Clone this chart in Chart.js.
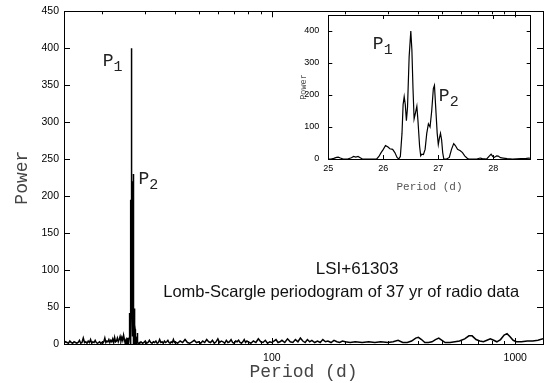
<!DOCTYPE html>
<html><head><meta charset="utf-8">
<script src="https://cdn.jsdelivr.net/npm/chart.js@4.4.0/dist/chart.umd.min.js"></script>
<style>
html,body{margin:0;padding:0;background:#fff;}
#wrap{position:relative;width:548px;height:383px;overflow:hidden;}
#main{position:absolute;left:0;top:0;}
#inset{position:absolute;left:296px;top:0;}
</style></head><body>
<div id="wrap">
<canvas id="main" width="548" height="383" style="width:548px;height:383px"></canvas>
<canvas id="inset" width="248" height="198" style="width:248px;height:198px"></canvas>
</div>
<script>
// ---------- DATA (period in days, Lomb-Scargle power) ----------
const noiseShort = [
 [14.0,1],[14.2,3],[14.4,2],[14.6,1],[14.8,4],[15.0,2],[15.2,1],[15.4,3],[15.6,2],[15.8,1],
 [16.0,2],[16.2,5],[16.4,1],[16.6,2],[16.8,8],[17.0,2],[17.2,3],[17.4,1],[17.6,4],[17.8,2],
 [18.0,6],[18.2,1],[18.4,3],[18.6,2],[18.8,5],[19.0,2],[19.2,1],[19.4,2],[19.6,3],[19.8,1],
 [20.0,2],[20.2,1],[20.4,3],[20.6,8],[20.8,2],[21.0,4],[21.2,3],[21.4,6],[21.6,2],[21.8,5],
 [22.0,3],[22.2,7],[22.4,2],[22.6,9],[22.8,3],[23.0,4],[23.2,8],[23.4,3],[23.6,6],[23.8,10],
 [24.0,4],[24.2,9],[24.4,5],[24.6,12],[24.8,6],[24.9,3]
];
const peakRegion = [
 [25.00,0],[25.05,0],[25.10,2],[25.15,5],[25.18,6],[25.22,3],[25.27,0],[25.35,0],[25.42,4],[25.46,8],
 [25.50,6],[25.54,8],[25.58,4],[25.62,0],[25.75,0],[25.88,0],[25.92,8],[25.96,20],[26.00,30],[26.04,42],
 [26.08,38],[26.12,32],[26.17,30],[26.21,20],[26.25,5],[26.28,0],[26.31,8],[26.34,80],[26.36,170],[26.38,195],
 [26.40,170],[26.42,120],[26.44,160],[26.47,320],[26.50,400],[26.52,340],[26.54,220],[26.56,125],[26.58,140],[26.61,165],
 [26.63,120],[26.66,40],[26.68,10],[26.70,15],[26.73,14],[26.76,30],[26.79,80],[26.82,110],[26.85,100],[26.88,150],
 [26.91,220],[26.93,230],[26.95,170],[26.98,80],[27.00,45],[27.02,65],[27.04,80],[27.06,60],[27.08,20],[27.10,0],
 [27.15,0],[27.20,5],[27.24,30],[27.28,48],[27.31,42],[27.35,30],[27.40,26],[27.44,20],[27.48,10],[27.52,3],
 [27.55,0],[27.70,0],[27.76,3],[27.80,1],[27.88,0],[27.93,10],[27.96,15],[27.99,8],[28.02,5],[28.06,10],
 [28.09,9],[28.13,4],[28.18,3],[28.25,1],[28.35,0],[28.50,1],[28.60,2],[28.65,3],[28.70,1]
];
const noiseMid = [
 [29.0,3],[29.4,1],[29.8,2],[30.2,4],[30.6,1],[31.0,2],[31.4,5],[31.8,2],[32.2,1],[32.6,3],
 [33.0,2],[33.4,4],[33.8,1],[34.2,2],[34.6,6],[35.0,2],[35.4,3],[35.8,1],[36.2,4],[36.6,2],
 [37.0,3],[37.4,5],[37.8,2],[38.2,1],[38.6,3],[39.0,2],[39.4,6],[39.8,2],
 [40,3],[41,1],[42,4],[43,2],[44,6],[45,2],[46,1],[47,3],[48,5],[49,2],
 [50,3],[51,1],[52,4],[53,2],[54,6],[55,3],[56,2],[57,5],[58,1],[59,3],
 [60,7],[61,2],[62,4],[63,3],[64,1],[65,5],[66,2],[67,3],[68,6],[69,2],
 [70,1],[71,4],[72,3],[73,5],[74,2],[75,1],[76,3],[77,6],[78,2],[79,4],
 [80,3],[82,1],[84,4],[86,2],[88,7],[90,3],[92,2],[94,5],[96,1],[98,3],
 [100,2],[102,4],[104,6],[106,2],[108,3],[110,5],[113,2],[116,7],[119,3],[122,2],
 [125,6],[128,3],[131,8],[134,4],[137,2],[140,6],[143,3],[146,5],[150,2],[154,4],
 [158,2],[162,6],[166,3],[170,4],[175,2],[180,5],[185,3],[190,2],[195,4]
];
const noiseLong = [
 [200,3],[210,2],[220,3],[235,2],[250,3],[265,2],[280,3],[300,2],[315,3],[330,5],
 [345,2],[360,2],[375,4],[390,8],[400,9],[412,6],[425,2],[440,2],[455,3],[470,6],
 [485,8],[500,5],[515,2],[540,2],[565,3],[590,4],[620,7],[645,11],[665,11],[690,6],
 [715,4],[740,3],[765,5],[790,7],[815,5],[840,3],[870,6],[900,12],[925,14],[950,10],
 [980,5],[1010,3],[1060,3],[1120,4],[1180,4],[1240,5],[1300,7]
];
const mainXTicks = [20,30,40,50,60,70,80,90,100,200,300,400,500,600,700,800,900,1000];
const mainXLabels = [100,1000];
const mainYTicks = [0,50,100,150,200,250,300,350,400,450];
const insetXTicks = [25,26,27,28];
const insetYTicks = [0,100,200,300,400];

const toXY = arr => arr.map(([x,y]) => ({x, y}));
const mainSeries = toXY([...noiseShort, ...peakRegion, ...noiseMid, ...noiseLong]);
const insetSeries = toXY(peakRegion);

// ---------- PLUGINS ----------
const framePlugin = {
  id: 'frame',
  afterDatasetsDraw(chart, args, o) {
    const {ctx, chartArea: a, scales: {x, y}} = chart;
    ctx.save();
    ctx.strokeStyle = '#000';
    ctx.lineWidth = 1;
    ctx.beginPath();
    x.ticks.forEach(t => {
      const px = Math.round(x.getPixelForValue(t.value)) + 0.5;
      const len = o.majorX.includes(t.value) ? o.major : o.minor;
      ctx.moveTo(px, a.bottom); ctx.lineTo(px, a.bottom - len);
      ctx.moveTo(px, a.top); ctx.lineTo(px, a.top + len);
    });
    y.ticks.forEach(t => {
      const py = Math.round(y.getPixelForValue(t.value)) + 0.5;
      ctx.moveTo(a.left, py); ctx.lineTo(a.left + o.major, py);
      ctx.moveTo(a.right, py); ctx.lineTo(a.right - o.major, py);
    });
    ctx.stroke();
    ctx.strokeRect(Math.round(a.left)+0.5, Math.round(a.top)+0.5, Math.round(a.right-a.left), Math.round(a.bottom-a.top));
    ctx.restore();
  }
};
const notesPlugin = {
  id: 'notes',
  afterDraw(chart, args, o) {
    const {ctx, scales: {x, y}} = chart;
    ctx.save();
    ctx.fillStyle = '#222';
    ctx.textBaseline = 'alphabetic';
    (o.peaks || []).forEach(p => {
      const px = x.getPixelForValue(p.x), py = y.getPixelForValue(p.y);
      ctx.textAlign = 'left';
      ctx.font = o.pSize + 'px "Liberation Mono"';
      ctx.fillText('P', px, py);
      const w = ctx.measureText('P').width;
      ctx.font = o.subSize + 'px "Liberation Mono"';
      ctx.fillText(p.sub, px + w, py + o.subDrop);
    });
    (o.texts || []).forEach(t => {
      ctx.textAlign = 'center';
      ctx.font = t.font;
      ctx.fillStyle = '#111';
      ctx.fillText(t.text, x.getPixelForValue(t.x), y.getPixelForValue(t.y));
    });
    ctx.restore();
  }
};

// ---------- MAIN CHART ----------
new Chart(document.getElementById('main'), {
  type: 'line',
  data: { datasets: [{ data: mainSeries, borderColor: '#000', borderWidth: 1.5, pointRadius: 0, tension: 0, fill: false }] },
  options: {
    responsive: false, animation: false, events: [],
    layout: { padding: { left: 11, right: 5, top: 7, bottom: 0 } },
    plugins: {
      legend: { display: false }, tooltip: { enabled: false },
      frame: { major: 6, minor: 3, majorX: mainXLabels },
      notes: {
        pSize: 18, subSize: 15, subDrop: 5,
        peaks: [ { x: 20.2, y: 376, sub: '1' }, { x: 28.3, y: 216, sub: '2' } ],
        texts: [
          { text: 'LSI+61303', x: 224, y: 95, font: '17px "Liberation Sans"' },
          { text: 'Lomb-Scargle periodogram of 37 yr of radio data', x: 192.6, y: 63, font: '16.5px "Liberation Sans"' }
        ]
      }
    },
    scales: {
      x: {
        type: 'logarithmic', min: 14, max: 1300,
        afterFit(s) { s.height = 39; },
        afterBuildTicks(s) { s.ticks = mainXTicks.map(v => ({ value: v })); },
        ticks: { autoSkip: false, maxRotation: 0, padding: 8, color: '#000',
                 font: { family: 'Liberation Sans', size: 10.5 },
                 callback: v => mainXLabels.includes(v) ? String(v) : '' },
        grid: { display: false, drawTicks: false }, border: { display: false },
        title: { display: true, text: 'Period (d)', color: '#444', padding: 0,
                 font: { family: 'Liberation Mono', size: 18, lineHeight: 1.2 } }
      },
      y: {
        min: 0, max: 450,
        afterFit(s) { s.width = 53; },
        afterBuildTicks(s) { s.ticks = mainYTicks.map(v => ({ value: v })); },
        ticks: { padding: 5, color: '#000', font: { family: 'Liberation Sans', size: 10.5 } },
        grid: { display: false, drawTicks: false }, border: { display: false },
        title: { display: true, text: 'Power', color: '#444', padding: 0,
                 font: { family: 'Liberation Mono', size: 18, lineHeight: 1.2 } }
      }
    }
  },
  plugins: [framePlugin, notesPlugin]
});

// ---------- INSET CHART ----------
new Chart(document.getElementById('inset'), {
  type: 'line',
  data: { datasets: [{ data: insetSeries, borderColor: '#000', borderWidth: 1.2, pointRadius: 0, tension: 0, fill: false }] },
  options: {
    responsive: false, animation: false, events: [],
    layout: { padding: { left: 3, right: 13.3, top: 15, bottom: 4 } },
    plugins: {
      legend: { display: false }, tooltip: { enabled: false },
      frame: { major: 4, minor: 4, majorX: insetXTicks },
      notes: {
        pSize: 18, subSize: 15, subDrop: 5,
        peaks: [ { x: 25.81, y: 344, sub: '1' }, { x: 27.01, y: 181, sub: '2' } ]
      }
    },
    scales: {
      x: {
        type: 'linear', min: 25, max: 28.68,
        afterFit(s) { s.height = 198 - 159 - 4; },
        afterBuildTicks(s) { s.ticks = insetXTicks.map(v => ({ value: v })); },
        ticks: { autoSkip: false, maxRotation: 0, padding: 4, color: '#000',
                 font: { family: 'Liberation Sans', size: 9 } },
        grid: { display: false, drawTicks: false }, border: { display: false },
        title: { display: true, text: 'Period (d)', color: '#555', padding: 0,
                 font: { family: 'Liberation Mono', size: 11, lineHeight: 1.2 } }
      },
      y: {
        min: 0, max: 450,
        afterFit(s) { s.width = 32.3 - 3; },
        afterBuildTicks(s) { s.ticks = insetYTicks.map(v => ({ value: v })); },
        ticks: { padding: 9, color: '#000', font: { family: 'Liberation Sans', size: 9 } },
        grid: { display: false, drawTicks: false }, border: { display: false },
        title: { display: true, text: 'Power', color: '#555', padding: 0,
                 font: { family: 'Liberation Mono', size: 8.5, lineHeight: 1.2 } }
      }
    }
  },
  plugins: [framePlugin, notesPlugin]
});
</script></body></html>
